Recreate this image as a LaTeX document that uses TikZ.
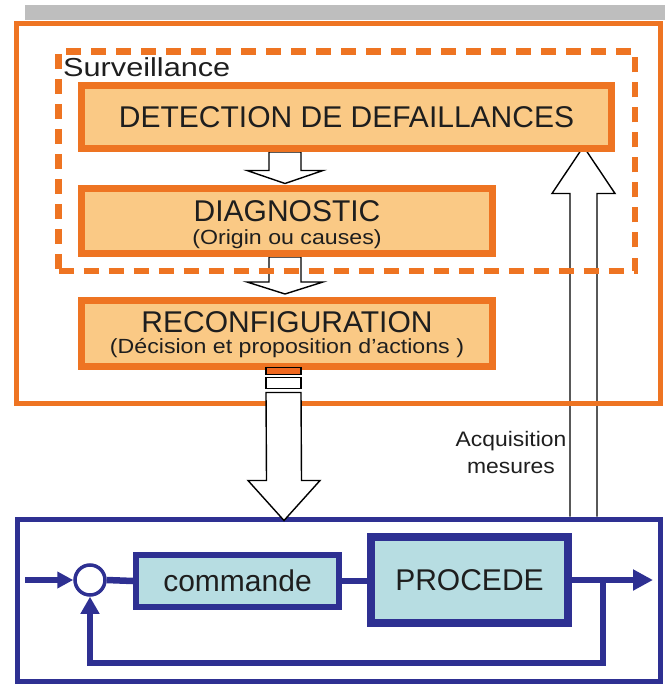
\documentclass[tikz,border=0pt]{standalone}
\usepackage{fontspec}
\setmainfont{Liberation Sans}
\usetikzlibrary{arrows.meta,calc}
\definecolor{orline}{RGB}{238,116,34}
\definecolor{orfill}{RGB}{250,201,133}
\definecolor{navy}{RGB}{46,48,146}
\definecolor{cyanfill}{RGB}{183,221,226}
\definecolor{bargray}{RGB}{190,190,190}
\definecolor{ink}{RGB}{30,30,30}
\newcommand\widetext[2]{\scalebox{#1}[1]{#2}}
\begin{document}
\begin{tikzpicture}[x=1pt,y=-1pt,
  obox/.style={draw=orline, fill=orfill, line width=7pt, rectangle, inner sep=0pt, text=ink},
  bbox/.style={draw=navy, fill=cyanfill, rectangle, inner sep=0pt, text=ink},
  hollow/.style={draw=black, fill=white, line width=1.4pt, line join=miter},
  sig/.style={draw=navy, line width=6.5pt},
  lbl/.style={text=ink, inner sep=0pt},
  big/.style={font=\fontsize{30}{36}\selectfont},
  small/.style={font=\fontsize{20.5}{24}\selectfont},
  note/.style={font=\fontsize{21}{25}\selectfont}]
\useasboundingbox (0,0) rectangle (665,684);

% grey strip along the top
\fill[bargray] (25,5) rectangle (665,20);

% layout anchors
\coordinate (ax) at (285,0);
\coordinate (acx) at (583.5,0);

% supervision blocks (placed first so arrows can refer to them)
\path node[obox, minimum width=530pt, minimum height=63pt, big] (det) at (346.5,117) {DETECTION DE DEFAILLANCES};
\path node[obox, minimum width=411pt, minimum height=65pt] (diag) at (287,221) {};
\path node[obox, minimum width=411pt, minimum height=66pt] (reco) at (287,333.5) {};

% process block
\path node[draw=navy, line width=5pt, rectangle, minimum width=643pt, minimum height=162pt] (plant) at (338.5,600) {};

% measurement arrow going up to the detection block
\coordinate (acqs) at (acx |- plant.north);
\coordinate (acqt) at ($(det.south -| acx)+(0,-5.5)$);
\draw[hollow] ($(acqs)+(-13.5,0)$) -- ($(acqt)+(-13.5,47)$) -- ($(acqt)+(-31.5,47)$) -- (acqt)
  -- ($(acqt)+(31.5,47)$) -- ($(acqt)+(13.5,47)$) -- ($(acqs)+(13.5,0)$);

% detection -> diagnostic
\coordinate (a1s) at (det.south -| ax);
\coordinate (a1t) at ($(diag.north -| ax)+(0,-1.5)$);
\draw[hollow] ($(a1s)+(-16,0)$) -- ($(a1t)+(-16,-13)$) -- ($(a1t)+(-38,-13)$) -- (a1t)
  -- ($(a1t)+(38,-13)$) -- ($(a1t)+(16,-13)$) -- ($(a1s)+(16,0)$) -- cycle;

% diagnostic -> reconfiguration
\coordinate (a2s) at (diag.south -| ax);
\coordinate (a2t) at ($(reco.north -| ax)+(0,-3)$);
\draw[hollow] ($(a2s)+(-16,0)$) -- ($(a2t)+(-16,-12)$) -- ($(a2t)+(-38,-12)$) -- (a2t)
  -- ($(a2t)+(38,-12)$) -- ($(a2t)+(16,-12)$) -- ($(a2s)+(16,0)$) -- cycle;

% outer supervision frame
\path node[draw=orline, line width=5pt, rectangle, minimum width=644.5pt, minimum height=380pt] (sup) at (338.25,213.5) {};

% dashed surveillance frame
\path node[draw=orline, line width=6.5pt, dash pattern=on 15pt off 10pt, rectangle,
  minimum width=576.5pt, minimum height=219.5pt] (surv) at (346.75,161.25) {};
\node[lbl, anchor=base west, font=\fontsize{26}{31}\selectfont] (survlbl) at (63,77) {\widetext{1.18}{Surveillance}};

% redraw the blocks over the arrow ends
\path node[obox, minimum width=530pt, minimum height=63pt, big] at (det.center) {DETECTION DE DEFAILLANCES};
\path node[obox, minimum width=411pt, minimum height=65pt] at (diag.center) {};
\path node[obox, minimum width=411pt, minimum height=66pt] at (reco.center) {};

\node[lbl, anchor=base, big] (diagt) at (diag.center |- 0,222) {DIAGNOSTIC};
\node[lbl, anchor=base, small] (diags) at (diag.center |- 0,244) {\widetext{1.13}{(Origin ou causes)}};
\node[lbl, anchor=base, big] (recot) at (reco.center |- 0,332) {RECONFIGURATION};
\node[lbl, anchor=base, small] (recos) at (reco.center |- 0,353) {\widetext{1.13}{(Décision et proposition d’actions )}};

% reconfiguration -> process (striped block arrow)
\coordinate (a3s) at (reco.south -| 283.5,0);
\coordinate (a3t) at ($(plant.north -| 284,0)+(0,4)$);
\draw[hollow, fill=orline!90!red] ($(a3s)+(-17.5,-2.5)$) rectangle ($(a3s)+(17.5,4.5)$);
\draw[hollow] ($(a3s)+(-17.5,7.5)$) rectangle ($(a3s)+(17.5,18.5)$);
\draw[hollow] ($(a3s)+(-17.5,22.5)$) -- ($(a3t)+(-17.5,-40)$) -- ($(a3t)+(-36,-40)$) -- (a3t)
  -- ($(a3t)+(36,-40)$) -- ($(a3t)+(17.5,-40)$) -- ($(a3s)+(17.5,22.5)$) -- cycle;

\node[lbl, anchor=base, note] (acq1) at (511,446) {\widetext{1.09}{Acquisition}};
\node[lbl, anchor=base, note] (acq2) at (511,473) {\widetext{1.09}{mesures}};

% control loop
\path node[circle, draw=navy, fill=white, line width=3.5pt, minimum size=30pt, inner sep=0pt] (sum) at (90,580) {};
\path node[bbox, line width=6pt, minimum width=203pt, minimum height=52pt, big] (cmd) at (237.5,581) {commande};
\path node[bbox, line width=8pt, minimum width=197pt, minimum height=86pt, big] (proc) at (469.5,580) {PROCEDE};

\coordinate (in) at (25,580);
\coordinate (out) at (653,580);
\coordinate (fb) at (603,580);
\draw[sig, -{Triangle[length=16pt,width=16pt]}] (in) -- (sum.west);
\draw[sig] (sum.east) -- (cmd.west);
\draw[sig] (cmd.east) -- (cmd.east -| proc.west);
\draw[sig, -{Triangle[length=20pt,width=20pt]}] (proc.east) -- (out);
\draw[sig, -{Triangle[length=17pt,width=18pt]}] (fb) -- (fb |- 0,663) -| (sum.south);
\end{tikzpicture}
\end{document}
